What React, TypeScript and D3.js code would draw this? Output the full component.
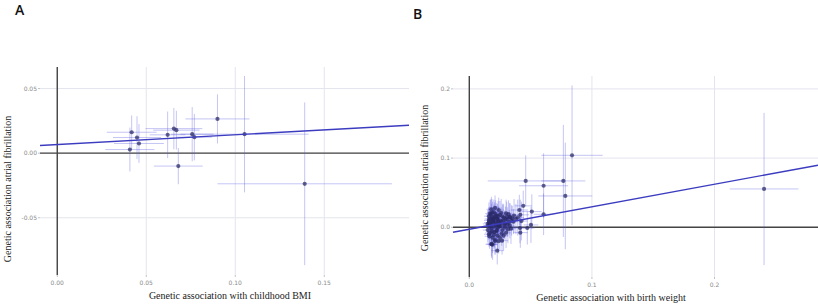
import React from "react";
import * as d3 from "d3";

// Panel A data: childhood BMI (x) vs AF (y), with half-widths of CIs
const aX = [0.0418, 0.0448, 0.0459, 0.0408, 0.062, 0.0655, 0.0669, 0.068, 0.0758, 0.077, 0.090, 0.1052, 0.139];
const aY = [0.0162, 0.0121, 0.0075, 0.0028, 0.0142, 0.019, 0.0178, -0.010, 0.0147, 0.0124, 0.0265, 0.0147, -0.0237];
const aXe = [0.014, 0.0135, 0.014, 0.0138, 0.010, 0.016, 0.013, 0.0137, 0.012, 0.010, 0.018, 0.036, 0.049];
const aYe = [0.013, 0.0165, 0.015, 0.017, 0.018, 0.016, 0.015, 0.014, 0.021, 0.018, 0.019, 0.045, 0.063];
const aXTicks = [0, 0.05, 0.1, 0.15];
const aXTickLabels = ["0.00", "0.05", "0.10", "0.15"];
const aYTicks = [-0.05, 0, 0.05];
const aYTickLabels = ["-0.05", "0.00", "0.05"];
const aLine = { intercept: 0.0067, slope: 0.0755 };

// Panel B data: birth weight (x) vs AF (y)
const bX = [
  0.2404, 0.0838, 0.046, 0.0606, 0.0767, 0.0783, 0.0606, 0.051, 0.044, 0.0408, 0.0416, 0.0503, 0.0473, 0.0413, 0.0416, 0.0332, 0.0228, 0.0182, 0.0267,
  0.016, 0.017, 0.018, 0.019, 0.020, 0.021, 0.022, 0.023, 0.024, 0.025, 0.016, 0.017, 0.018, 0.019, 0.020, 0.021, 0.022, 0.023, 0.024, 0.026,
  0.027, 0.028, 0.029, 0.030, 0.031, 0.032, 0.033, 0.034, 0.035, 0.015, 0.015, 0.016, 0.017, 0.018, 0.019, 0.020, 0.021, 0.022, 0.023, 0.024,
  0.025, 0.026, 0.027, 0.028, 0.029, 0.030, 0.031, 0.019, 0.018, 0.021, 0.024, 0.020, 0.017, 0.016, 0.025, 0.033, 0.036, 0.038,
  0.0155, 0.0165, 0.0175, 0.0185, 0.0195, 0.0205, 0.0215, 0.0225, 0.0235, 0.0245, 0.0165, 0.0175, 0.0185, 0.0195, 0.0205,
  0.0215, 0.0225, 0.0235, 0.0255, 0.0265, 0.0275, 0.0285, 0.0295, 0.0305, 0.0315, 0.0325, 0.0345, 0.0365, 0.0395, 0.0425,
];
const bY = [
  0.0554, 0.104, 0.067, 0.060, 0.067, 0.0453, 0.0188, 0.0227, 0.031, 0.025, 0.018, 0.0034, -0.001, -0.001, -0.0077, 0.0145, -0.0337, -0.0246, -0.0193,
  0.010, 0.004, -0.002, 0.015, 0.022, 0.008, -0.006, 0.012, 0.003, 0.018, -0.010, 0.020, 0.026, -0.015, 0.001, -0.020, 0.017, -0.012, 0.025, 0.009,
  -0.004, 0.014, 0.006, -0.008, 0.011, 0.019, 0.002, -0.002, 0.013, 0.005, -0.004, 0.016, -0.008, 0.012, 0.007, -0.011, 0.028, 0.005, -0.001, 0.010,
  -0.015, 0.021, 0.016, -0.012, 0.000, 0.020, 0.004, -0.025, -0.024, -0.018, -0.020, 0.013, 0.001, 0.007, 0.006, 0.015, 0.008, 0.012,
  0.002, 0.012, 0.018, -0.006, 0.009, 0.014, 0.003, -0.004, 0.008, 0.001, -0.013, 0.006, 0.021, 0.011, -0.007,
  0.019, 0.013, 0.016, 0.002, -0.009, 0.010, 0.004, 0.012, 0.015, -0.003, 0.007, 0.010, 0.017, 0.014, 0.009,
];
const bXe = [
  0.028, 0.025, 0.031, 0.02, 0.018, 0.022, 0.008, 0.008, 0.007, 0.007, 0.007, 0.006, 0.006, 0.006, 0.006, 0.006, 0.005, 0.005, 0.005,
  0.004, 0.004, 0.004, 0.004, 0.004, 0.004, 0.004, 0.004, 0.004, 0.004, 0.004, 0.004, 0.004, 0.004, 0.004, 0.004, 0.004, 0.004, 0.004, 0.004,
  0.004, 0.004, 0.004, 0.004, 0.004, 0.004, 0.004, 0.004, 0.004, 0.004, 0.004, 0.004, 0.004, 0.004, 0.004, 0.004, 0.004, 0.004, 0.004, 0.004,
  0.004, 0.004, 0.004, 0.004, 0.004, 0.004, 0.004, 0.004, 0.004, 0.004, 0.004, 0.004, 0.004, 0.004, 0.004, 0.004, 0.004, 0.004,
  0.004, 0.004, 0.004, 0.004, 0.004, 0.004, 0.004, 0.004, 0.004, 0.004, 0.004, 0.004, 0.004, 0.004, 0.004,
  0.004, 0.004, 0.004, 0.004, 0.004, 0.004, 0.004, 0.005, 0.005, 0.005, 0.005, 0.005, 0.005, 0.005, 0.005,
];
const bYe = [
  0.110, 0.101, 0.037, 0.047, 0.081, 0.077, 0.030, 0.025, 0.022, 0.022, 0.022, 0.026, 0.024, 0.022, 0.022, 0.020, 0.020, 0.020, 0.020,
  0.018, 0.020, 0.018, 0.022, 0.018, 0.020, 0.018, 0.022, 0.018, 0.020, 0.018, 0.020, 0.018, 0.022, 0.018, 0.020, 0.018, 0.022, 0.018, 0.020,
  0.018, 0.020, 0.018, 0.022, 0.018, 0.020, 0.018, 0.022, 0.018, 0.020, 0.018, 0.020, 0.018, 0.022, 0.018, 0.020, 0.018, 0.022, 0.018, 0.020,
  0.018, 0.020, 0.018, 0.022, 0.018, 0.020, 0.018, 0.022, 0.018, 0.020, 0.018, 0.020, 0.018, 0.022, 0.018, 0.020, 0.018, 0.022,
  0.020, 0.018, 0.022, 0.020, 0.018, 0.022, 0.020, 0.018, 0.022, 0.020, 0.018, 0.022, 0.020, 0.018, 0.022,
  0.020, 0.018, 0.022, 0.020, 0.018, 0.022, 0.020, 0.018, 0.022, 0.020, 0.018, 0.022, 0.024, 0.026, 0.028,
];
const bXTicks = [0, 0.1, 0.2];
const bXTickLabels = ["0.0", "0.1", "0.2"];
const bYTicks = [0, 0.1, 0.2];
const bYTickLabels = ["0.0", "0.1", "0.2"];
const bLine = { intercept: -0.0029, slope: 0.3256 };

type PanelProps = {
  letter: string; letterX: number; letterY: number;
  left: number; right: number; top: number; bottom: number;
  xDomain: [number, number]; yDomain: [number, number];
  xs: number[]; ys: number[]; xe: number[]; ye: number[];
  xTicks: number[]; xTickLabels: string[]; yTicks: number[]; yTickLabels: string[];
  line: { intercept: number; slope: number };
  xTitle: string; yTitle: string; yTitleX: number; xTitleX: number; yTitleY: number;
};

function Panel(p: PanelProps) {
  const x = d3.scaleLinear().domain(p.xDomain).range([p.left, p.right]);
  const y = d3.scaleLinear().domain(p.yDomain).range([p.bottom, p.top]);
  const grid = "#e4e4ee";
  const err = "rgba(90,90,225,0.35)";
  const lx0 = p.xDomain[0], lx1 = p.xDomain[1];
  return (
    <g>
      <text x={p.letterX} y={p.letterY} fontFamily="'Open Sans', sans-serif" fontSize={14} fontWeight={600} fill="#111">{p.letter}</text>
      {p.xTicks.map((t, i) => (
        <g key={"xg" + i}>
          <line x1={x(t)} x2={x(t)} y1={p.top} y2={p.bottom} stroke={grid} strokeWidth={1} />
          <line x1={x(t)} x2={x(t)} y1={p.bottom} y2={p.bottom + 2} stroke="#999" strokeWidth={0.6} />
          <text x={x(t)} y={p.bottom + 10} textAnchor="middle" fontFamily="'DejaVu Sans', sans-serif" fontSize={6} fill="#8a8a8a">{p.xTickLabels[i]}</text>
        </g>
      ))}
      {p.yTicks.map((t, i) => (
        <g key={"yg" + i}>
          <line x1={p.left} x2={p.right} y1={y(t)} y2={y(t)} stroke={grid} strokeWidth={1} />
          <line x1={p.left - 2} x2={p.left} y1={y(t)} y2={y(t)} stroke="#999" strokeWidth={0.6} />
          <text x={p.left - 3} y={y(t) + 2} textAnchor="end" fontFamily="'DejaVu Sans', sans-serif" fontSize={6} fill="#8a8a8a">{p.yTickLabels[i]}</text>
        </g>
      ))}
      <line x1={x(0)} x2={x(0)} y1={p.top} y2={p.bottom} stroke="#444" strokeWidth={1.4} />
      <line x1={p.left} x2={p.right} y1={y(0)} y2={y(0)} stroke="#444" strokeWidth={1.4} />
      {p.xs.map((v, i) => (
        <g key={"e" + i}>
          <line x1={x(v - p.xe[i])} x2={x(v + p.xe[i])} y1={y(p.ys[i])} y2={y(p.ys[i])} stroke={err} strokeWidth={1} />
          <line x1={x(v)} x2={x(v)} y1={y(p.ys[i] - p.ye[i])} y2={y(p.ys[i] + p.ye[i])} stroke={err} strokeWidth={1} />
        </g>
      ))}
      {p.xs.map((v, i) => (
        <circle key={"p" + i} cx={x(v)} cy={y(p.ys[i])} r={2.1} fill="rgba(40,40,100,0.72)" />
      ))}
      <line x1={x(lx0)} x2={x(lx1)} y1={y(p.line.intercept + p.line.slope * lx0)} y2={y(p.line.intercept + p.line.slope * lx1)} stroke="#3c3cc0" strokeWidth={1.4} />
      <text x={p.xTitleX} y={p.bottom + 24} textAnchor="middle" fontFamily="'Liberation Serif', serif" fontSize={10} fill="#222">{p.xTitle}</text>
      <text transform={`translate(${p.yTitleX},${p.yTitleY}) rotate(-90)`} textAnchor="middle" fontFamily="'Liberation Serif', serif" fontSize={10} fill="#222">{p.yTitle}</text>
    </g>
  );
}

export default function App() {
  return (
    <svg width={818} height={307} style={{ position: "absolute", left: 0, top: 0, background: "#fff" }}>
      <rect width={818} height={307} fill="#fff" />
      <Panel letter="A" letterX={15} letterY={15} left={40} right={409} top={67} bottom={275}
        xDomain={[-0.0097, 0.1976]} yDomain={[-0.0943, 0.0667]}
        xs={aX} ys={aY} xe={aXe} ye={aYe}
        xTicks={aXTicks} xTickLabels={aXTickLabels} yTicks={aYTicks} yTickLabels={aYTickLabels}
        line={aLine} xTitle="Genetic association with childhood  BMI" yTitle="Genetic association atrial fibrillation"
        yTitleX={11} xTitleX={230} yTitleY={189} />
      <Panel letter="B" letterX={413} letterY={19} left={453} right={818} top={76} bottom={277}
        xDomain={[-0.0133, 0.2844]} yDomain={[-0.0718, 0.2186]}
        xs={bX} ys={bY} xe={bXe} ye={bYe}
        xTicks={bXTicks} xTickLabels={bXTickLabels} yTicks={bYTicks} yTickLabels={bYTickLabels}
        line={bLine} xTitle="Genetic association with birth weight" yTitle="Genetic association atrial fibrillation"
        yTitleX={428} xTitleX={611} yTitleY={178} />
    </svg>
  );
}
